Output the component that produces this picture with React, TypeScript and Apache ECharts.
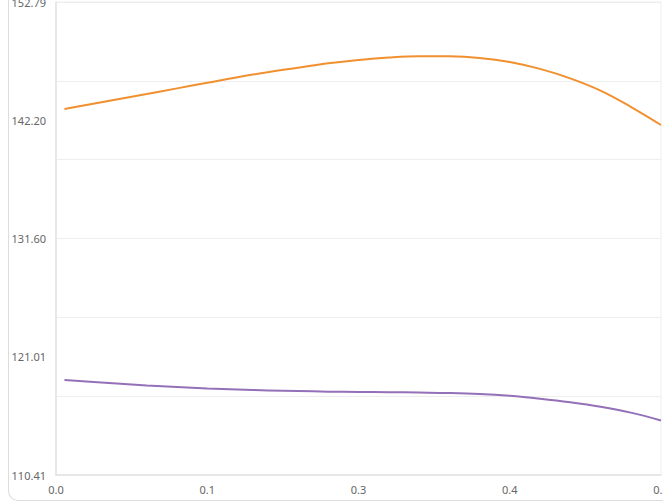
import React, { useEffect, useRef } from "react";
import * as echarts from "echarts";

const xValues = [0.007, 0.025, 0.05, 0.075, 0.1, 0.125, 0.15, 0.175, 0.2, 0.225, 0.25, 0.275, 0.3, 0.325, 0.35, 0.375, 0.4, 0.425, 0.45, 0.475, 0.5];
const orangeY = [143.2, 143.56, 144.06, 144.55, 145.05, 145.55, 146.05, 146.5, 146.9, 147.3, 147.6, 147.82, 147.93, 147.92, 147.78, 147.42, 146.8, 145.95, 144.85, 143.4, 141.77];
const purpleY = [118.92, 118.78, 118.6, 118.43, 118.3, 118.17, 118.07, 117.99, 117.93, 117.88, 117.85, 117.83, 117.8, 117.76, 117.67, 117.5, 117.24, 116.92, 116.52, 116.0, 115.3];

const yMin = 110.41;
const yMax = 152.79;
const yLabelValues = [110.41, 121.005, 131.6, 142.195, 152.79];
const yTickLabels = ["110.41", "121.01", "131.60", "142.20", "152.79"];
const yGridValues = [110.41, 117.473, 124.537, 131.6, 138.663, 145.727, 152.79];
const xTickLabels = ["0.0", "0.1", "0.3", "0.4", "0.5"];

export default function App() {
  const ref = useRef<HTMLDivElement>(null);
  useEffect(() => {
    if (!ref.current) return;
    const chart = echarts.init(ref.current, null, { renderer: "svg" });
    const toPairs = (xs: number[], ys: number[]) => xs.map((x, i) => [x, ys[i]]);
    chart.setOption({
      animation: false,
      grid: {
        left: 56,
        right: 2,
        top: 2,
        bottom: 28,
        show: true,
        borderColor: "#eeeeee",
        borderWidth: 1,
        containLabel: false,
        outerBoundsMode: "none",
      },
      xAxis: {
        type: "value",
        min: 0,
        max: 0.5,
        interval: 0.125,
        axisLine: { show: true, lineStyle: { color: "#e3e3e3", width: 1.5 } },
        axisTick: { show: false },
        splitLine: { show: false },
        axisLabel: {
          color: "#666",
          fontSize: 11,
          fontFamily: "Noto Sans",
          margin: 9,
          hideOverlap: false,
          formatter: (v: number) => xTickLabels[Math.round(v / 0.125)] ?? "",
        },
      },
      yAxis: {
        type: "value",
        min: yMin,
        max: yMax,
        axisLine: { show: true, lineStyle: { color: "#e3e3e3", width: 1.5 } },
        axisTick: { show: false, customValues: yGridValues },
        splitLine: { show: true, lineStyle: { color: "#eeeeee", width: 1 } },
        axisLabel: {
          color: "#666",
          fontSize: 11,
          fontFamily: "Noto Sans",
          margin: 10,
          customValues: yLabelValues,
          formatter: (v: number) => {
            let best = 0;
            for (let i = 1; i < yLabelValues.length; i++) {
              if (Math.abs(yLabelValues[i] - v) < Math.abs(yLabelValues[best] - v)) best = i;
            }
            return yTickLabels[best];
          },
        },
      },
      series: [
        {
          type: "line",
          data: toPairs(xValues, orangeY),
          smooth: 0.4,
          showSymbol: false,
          lineStyle: { color: "#F0902F", width: 2 },
          itemStyle: { color: "#F0902F" },
        },
        {
          type: "line",
          data: toPairs(xValues, purpleY),
          smooth: 0.4,
          showSymbol: false,
          lineStyle: { color: "#9470B8", width: 2 },
          itemStyle: { color: "#9470B8" },
        },
      ],
    });
    return () => chart.dispose();
  }, []);
  return (
    <div style={{ position: "fixed", left: 0, top: 0, width: 663, height: 503, overflow: "hidden", background: "#fff" }}>
      <div
        style={{
          position: "absolute",
          left: 8,
          top: -20,
          width: 700,
          height: 521,
          borderLeft: "1px solid #dddddd",
          borderBottom: "1px solid #dddddd",
          borderBottomLeftRadius: 10,
          boxSizing: "border-box",
        }}
      />
      <div ref={ref} style={{ position: "absolute", left: 0, top: 0, width: 663, height: 503 }} />
    </div>
  );
}
